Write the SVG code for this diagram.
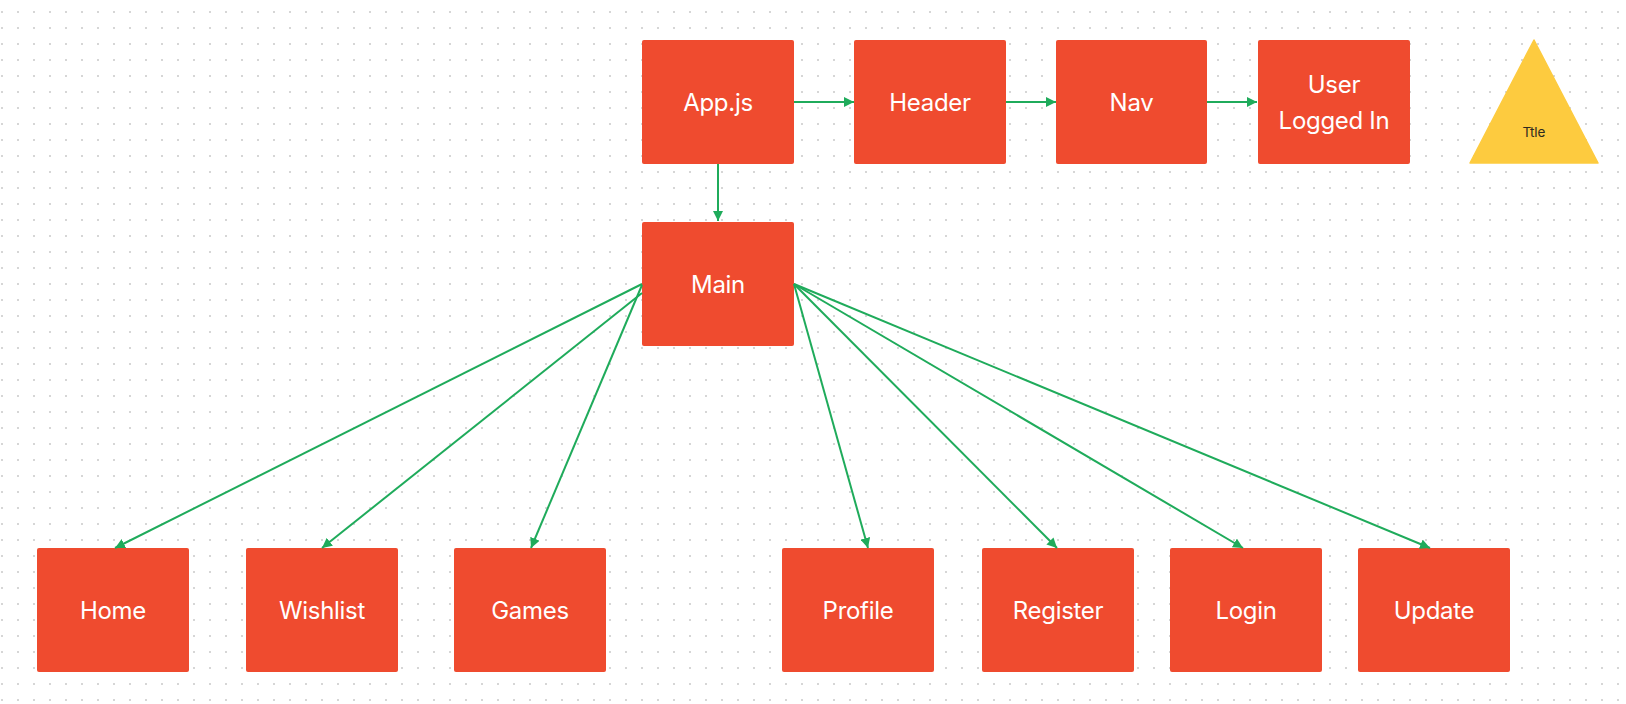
<svg xmlns="http://www.w3.org/2000/svg" width="1626" height="704" viewBox="0 0 1626 704">
  <defs>
    <pattern id="dots" x="0" y="0" width="16" height="16" patternUnits="userSpaceOnUse">
      <rect x="1" y="11" width="2" height="2" fill="#d6d6d6"/>
    </pattern>
    <marker id="arrow" viewBox="0 0 10 10" refX="10" refY="5" markerWidth="10" markerHeight="10" markerUnits="userSpaceOnUse" orient="auto">
      <path d="M0,0 L10,5 L0,10 z" fill="#1fab5b"/>
    </marker>
    <style>
      .box { fill: #ef4b2f; }
      .lbl { font-family: Inter, "Liberation Sans", sans-serif; font-size: 24px; letter-spacing: -0.3px; fill: #ffffff; text-anchor: middle; }
      .small { font-family: Inter, "Liberation Sans", sans-serif; font-size: 13.5px; fill: #2d2a20; text-anchor: middle; }
      .edge { stroke: #1fab5b; stroke-width: 2; fill: none; marker-end: url(#arrow); }
    </style>
  </defs>
  <rect width="1626" height="704" fill="#ffffff"/>
  <rect width="1626" height="704" fill="url(#dots)"/>

  <g id="app">
    <rect class="box" x="642" y="40" width="152" height="124" rx="2"/>
    <text class="lbl" x="718" y="111">App.js</text>
  </g>
  <g id="header">
    <rect class="box" x="854" y="40" width="152" height="124" rx="2"/>
    <text class="lbl" x="930" y="111">Header</text>
  </g>
  <g id="nav">
    <rect class="box" x="1056" y="40" width="151" height="124" rx="2"/>
    <text class="lbl" x="1131.5" y="111">Nav</text>
  </g>
  <g id="user">
    <rect class="box" x="1258" y="40" width="152" height="124" rx="2"/>
    <text class="lbl" x="1334" y="93">User</text>
    <text class="lbl" x="1334" y="129">Logged In</text>
  </g>
  <g id="title">
    <path d="M1534,40 L1598,163 L1470,163 z" fill="#fdcb3f" stroke="#fdcb3f" stroke-width="1.5" stroke-linejoin="round"/>
    <text class="small" x="1534" y="136.5">Ttle</text>
  </g>
  <g id="main">
    <rect class="box" x="642" y="222" width="152" height="124" rx="2"/>
    <text class="lbl" x="718" y="293">Main</text>
  </g>
  <g id="home">
    <rect class="box" x="37" y="548" width="152" height="124" rx="2"/>
    <text class="lbl" x="113" y="619">Home</text>
  </g>
  <g id="wishlist">
    <rect class="box" x="246" y="548" width="152" height="124" rx="2"/>
    <text class="lbl" x="322" y="619">Wishlist</text>
  </g>
  <g id="games">
    <rect class="box" x="454" y="548" width="152" height="124" rx="2"/>
    <text class="lbl" x="530" y="619">Games</text>
  </g>
  <g id="profile">
    <rect class="box" x="782" y="548" width="152" height="124" rx="2"/>
    <text class="lbl" x="858" y="619">Profile</text>
  </g>
  <g id="register">
    <rect class="box" x="982" y="548" width="152" height="124" rx="2"/>
    <text class="lbl" x="1058" y="619">Register</text>
  </g>
  <g id="login">
    <rect class="box" x="1170" y="548" width="152" height="124" rx="2"/>
    <text class="lbl" x="1246" y="619">Login</text>
  </g>
  <g id="update">
    <rect class="box" x="1358" y="548" width="152" height="124" rx="2"/>
    <text class="lbl" x="1434" y="619">Update</text>
  </g>

  <g id="connectors">
    <line class="edge" x1="794" y1="102" x2="854" y2="102"/>
    <line class="edge" x1="1006" y1="102" x2="1056" y2="102"/>
    <line class="edge" x1="1207" y1="102" x2="1257" y2="102"/>
    <line class="edge" x1="718" y1="164" x2="718" y2="221"/>
    <line class="edge" x1="642" y1="284" x2="115" y2="548"/>
    <line class="edge" x1="642" y1="293" x2="322" y2="548"/>
    <line class="edge" x1="642" y1="285" x2="531" y2="548"/>
    <line class="edge" x1="794" y1="284" x2="868" y2="548"/>
    <line class="edge" x1="794" y1="284" x2="1057" y2="548"/>
    <line class="edge" x1="794" y1="284" x2="1243" y2="548"/>
    <line class="edge" x1="794" y1="284" x2="1430" y2="548"/>
  </g>
</svg>
